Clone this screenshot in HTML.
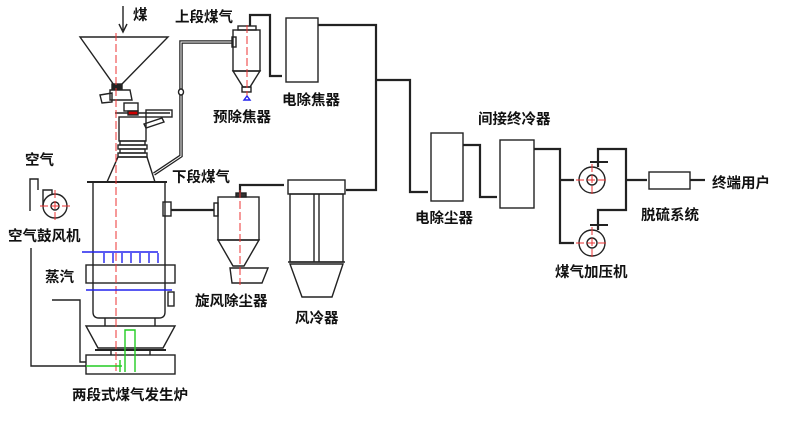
<!DOCTYPE html>
<html><head><meta charset="utf-8"><style>
html,body{margin:0;padding:0;background:#fff;width:800px;height:424px;overflow:hidden}
svg text{font-family:"Liberation Sans","Noto Sans CJK SC",sans-serif;font-size:14.5px;font-weight:bold;fill:#111}
</style></head><body>
<svg width="800" height="424" viewBox="0 0 800 424" xmlns="http://www.w3.org/2000/svg">
<g fill="none" stroke="#222" stroke-width="1.4">
<line x1="123" y1="6" x2="123" y2="30"/><path d="M119,24 L123,32 L127,24"/>
<path d="M80,37 L168,37 L121,85 L114,85 Z"/>
<rect x="112" y="84" width="10" height="5" fill="#222"/>
<path d="M110,90 L130,90 L132,100 L110,100 Z"/>
<path d="M100,95 L112,93 L112,102 L102,103 Z"/>
<rect x="124" y="103" width="14" height="8"/>
<line x1="115" y1="113" x2="170" y2="113"/>
<rect x="128" y="111" width="10" height="4" fill="#c00"/>
<rect x="146" y="110" width="26" height="7"/>
<path d="M144,124 L162,118 L164,122 L146,128 Z"/>
<rect x="119" y="117" width="27" height="24"/>
<rect x="120" y="141" width="25" height="4"/><rect x="118" y="145" width="29" height="4"/>
<rect x="120" y="149" width="25" height="4"/><rect x="118" y="153" width="29" height="4"/>
<path d="M118,157 L147,157 L155,182 L107,182 Z"/>
<line x1="87" y1="182" x2="167" y2="182" stroke-width="2"/>
<path d="M93,182 L93,312 Q93,318 99,318 L159,318 Q165,318 165,312 L165,182"/>
<rect x="86" y="265" width="89" height="18"/>
<rect x="168" y="292" width="6" height="14"/>
<line x1="105" y1="318" x2="105" y2="326"/><line x1="155" y1="318" x2="155" y2="326"/>
<path d="M86,326 L175,326 L163,348 L98,348 Z"/>
<line x1="95" y1="350" x2="166" y2="350" stroke-width="2"/>
<line x1="111" y1="350" x2="111" y2="355"/><line x1="150" y1="350" x2="150" y2="355"/>
<rect x="86" y="355" width="89" height="19"/>
<circle cx="55" cy="206" r="12"/><circle cx="55" cy="206" r="4"/>
<path d="M43,206 L43,190 L52,190 L52,194"/>
<path d="M30,211 L30,179 L38,179 L38,190"/>
<path d="M31,248 L31,366 L86,366"/>
<path d="M52,300 L80,300 L80,362 L86,362"/>
<path d="M154,174 L181,156 L181,42 L232,42" stroke-width="3.5"/>
<path d="M154,174 L181,156 L181,42 L232,42" stroke="#fff" stroke-width="1"/>
<ellipse cx="181" cy="92" rx="2.5" ry="3" fill="#fff"/>
<rect x="232" y="37" width="4" height="10"/>
<rect x="233" y="30" width="27" height="41"/>
<path d="M233,71 L260,71 L250,87 L243,87 Z"/>
<rect x="242" y="87" width="9" height="5"/>
<rect x="238" y="26" width="18" height="4"/>
<path d="M250,26 L250,15 L270,15 L270,76 L282,76" stroke-width="2.2"/>
<rect x="286" y="18" width="32" height="64"/>
<path d="M318,25 L376,25 L376,190 L346,190" stroke-width="2.2"/>
<path d="M376,80 L410,80 L410,192 L428,192" stroke-width="2.2"/>
<rect x="163" y="202" width="8" height="14"/>
<path d="M171,210 L214,210" stroke-width="2.2"/>
<rect x="214" y="203" width="4" height="13"/>
<rect x="218" y="197" width="41" height="43"/>
<path d="M218,240 L259,240 L244,266 L233,266 Z"/>
<path d="M230,268 L268,268 L262,283 L232,283 Z"/>
<rect x="236" y="193" width="10" height="4" fill="#333"/>
<path d="M240,193 L240,185 L284,185" stroke-width="2.2"/>
<rect x="288" y="180" width="57" height="14"/>
<rect x="290" y="194" width="53" height="68"/>
<line x1="314" y1="194" x2="314" y2="262"/><line x1="319" y1="194" x2="319" y2="262"/>
<path d="M290,264 L343,264 L332,297 L302,297 Z"/>
<line x1="288" y1="262" x2="345" y2="262"/>
<rect x="431" y="133" width="32" height="68"/>
<path d="M463,145 L480,145 L480,197 L497,197" stroke-width="2.2"/>
<rect x="500" y="140" width="34" height="68"/>
<path d="M534,149 L560,149 L560,243 L574,243 M560,180 L574,180" stroke-width="2.2"/>
<circle cx="592" cy="180" r="13"/><circle cx="592" cy="180" r="5"/>
<circle cx="592" cy="243" r="13"/><circle cx="592" cy="243" r="5"/>
<path d="M598,167 L598,149 L626,149 L626,210 L598,210 L598,230" stroke-width="2.2"/>
<line x1="590" y1="162" x2="608" y2="162" stroke-width="2"/>
<line x1="590" y1="225" x2="608" y2="225" stroke-width="2"/>
<path d="M626,180 L647,180" stroke-width="2.2"/>
<rect x="649" y="172" width="41" height="17"/>
<path d="M690,180 L705,180" stroke-width="2.2"/>
</g>
<g stroke="#e33" stroke-width="1" stroke-dasharray="8,3" fill="none">
<line x1="116" y1="33" x2="116" y2="372"/>
<line x1="247" y1="25" x2="247" y2="96"/>
<line x1="240" y1="190" x2="240" y2="285"/>
<line x1="55" y1="190" x2="55" y2="222"/><line x1="40" y1="206" x2="70" y2="206"/>
<line x1="592" y1="164" x2="592" y2="196"/><line x1="576" y1="180" x2="608" y2="180"/>
<line x1="592" y1="227" x2="592" y2="259"/><line x1="576" y1="243" x2="608" y2="243"/>
</g>
<g stroke="#22e" stroke-width="1.4" fill="none">
<line x1="82" y1="252" x2="158" y2="252"/>
<line x1="86" y1="290" x2="172" y2="290"/>
<path d="M104,253v10M113,253v10M122,253v10M131,253v10M140,253v10M149,253v10M158,253v10"/>
<path d="M247,96 l-3,4 h6 z"/>
</g>
<g stroke="#2c2" stroke-width="1.4" fill="none">
<path d="M125,372 L125,330 L135,330 L135,372"/>
<path d="M86,366 L122,366 M120,360 L120,372"/>
</g>
<text x="133" y="20">煤</text>
<text x="175" y="22">上段煤气</text>
<text x="213" y="122">预除焦器</text>
<text x="282" y="105">电除焦器</text>
<text x="172" y="182">下段煤气</text>
<text x="25" y="165">空气</text>
<text x="8" y="241">空气鼓风机</text>
<text x="45" y="282">蒸汽</text>
<text x="195" y="306">旋风除尘器</text>
<text x="295" y="323">风冷器</text>
<text x="72" y="400">两段式煤气发生炉</text>
<text x="478" y="124">间接终冷器</text>
<text x="415" y="223">电除尘器</text>
<text x="641" y="220">脱硫系统</text>
<text x="555" y="277">煤气加压机</text>
<text x="712" y="188">终端用户</text>
</svg>
</body></html>
